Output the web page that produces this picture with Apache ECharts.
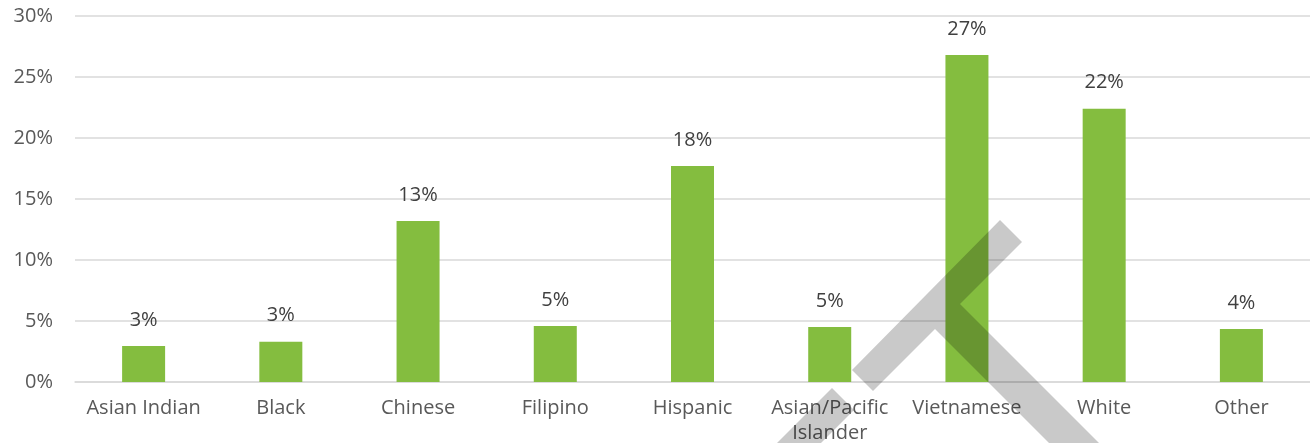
<!DOCTYPE html>
<html>
<head>
<meta charset="utf-8">
<script src="https://cdn.jsdelivr.net/npm/echarts@6/dist/echarts.min.js"></script>
<style>
 html,body{margin:0;padding:0;background:#fff;}
 #container{width:1310px;height:443px;}
</style>
</head>
<body>
<div id="container"></div>
<script>
var categories = ["Asian Indian","Black","Chinese","Filipino","Hispanic","Asian/Pacific\nIslander","Vietnamese","White","Other"];
var shares = [2.96, 3.3, 13.2, 4.6, 17.7, 4.5, 26.8, 22.4, 4.35];
var yTicks = [0, 5, 10, 15, 20, 25, 30];

var dom = document.getElementById("container");
var myChart = echarts.init(dom);
var option = {
    backgroundColor: '#fff',
    animation: false,
    grid: {left: 75, right: 0, top: 16, bottom: 61, outerBoundsMode: 'none'},
    xAxis: {
        type: 'category',
        data: categories,
        axisLine: {lineStyle: {color: '#d9d9d9', width: 1.5}},
        axisTick: {show: false},
        axisLabel: {
            color: '#595959', fontSize: 20, fontFamily: 'Open Sans',
            margin: 14, lineHeight: 25, interval: 0
        }
    },
    yAxis: {
        type: 'value',
        min: yTicks[0], max: yTicks[yTicks.length - 1], interval: 5,
        axisLine: {show: false},
        axisTick: {show: false},
        splitLine: {lineStyle: {color: '#d9d9d9', width: 1.5}},
        axisLabel: {
            color: '#595959', fontSize: 20, fontFamily: 'Open Sans', margin: 22,
            formatter: function (v) { return v + '%'; }
        }
    },
    series: [{
        type: 'bar',
        data: shares,
        barWidth: 43,
        itemStyle: {color: '#84bd3f'},
        label: {
            show: true, position: 'top', distance: 16,
            color: '#404040', fontSize: 20, fontFamily: 'Open Sans',
            formatter: function (p) { return Math.round(p.value) + '%'; }
        }
    }],
    // grey stamp lying over the chart
    graphic: [
        {type: 'polygon', z: 100, silent: true,
         shape: {points: [[852,370],[1000,220],[1022,242],[960,304],[1100,444],[1050,444],[935,329],[873,391]]},
         style: {fill: 'rgba(0,0,0,0.21)'}},
        {type: 'polygon', z: 100, silent: true,
         shape: {points: [[832,388],[854,410],[819,445],[775,445]]},
         style: {fill: 'rgba(0,0,0,0.21)'}}
    ]
};
myChart.setOption(option, true);
</script>
</body>
</html>
